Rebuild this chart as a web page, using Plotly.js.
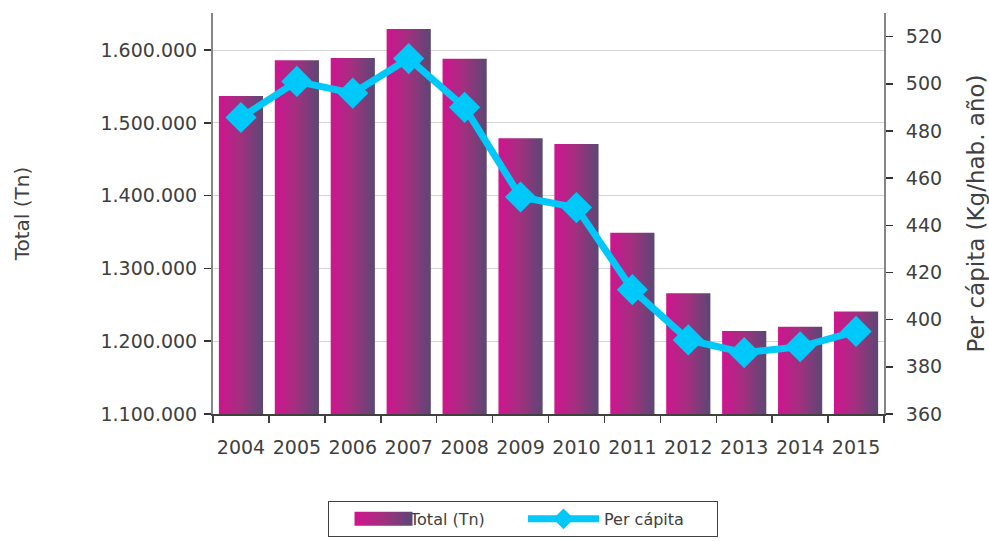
<!DOCTYPE html>
<html>
<head>
<meta charset="utf-8">
<script src="https://cdn.plot.ly/plotly-3.0.1.min.js"></script>
<style>
html,body{margin:0;padding:0;background:#fff;}
#chart{width:989px;height:541px;}
</style>
</head>
<body>
<div id="chart"></div>
<script>
var years = ['2004','2005','2006','2007','2008','2009','2010','2011','2012','2013','2014','2015'];
var totalTn = [1537000,1586000,1589000,1629000,1588000,1479000,1471000,1349000,1266000,1214000,1220000,1241000];
var perCapita = [485.7,501,496,510.7,490,452,447.5,412.7,391.4,386,388.5,395];

var FONT = '"DejaVu Sans", "Noto Sans", sans-serif';
var TXT = '#404040';

var traces = [
  {
    type:'bar', name:'Total (Tn)', x:years, y:totalTn, yaxis:'y',
    marker:{color:'#a02f84', line:{width:0}},
    hoverinfo:'skip'
  },
  {
    type:'scatter', mode:'lines+markers', name:'Per cápita', x:years, y:perCapita, yaxis:'y2',
    line:{color:'#00c8f8', width:7},
    marker:{symbol:'diamond', size:24, color:'#00c8f8'},
    hoverinfo:'skip'
  }
];

var layout = {
  width:989, height:541,
  margin:{l:213, r:105, t:13, b:127},
  paper_bgcolor:'#ffffff', plot_bgcolor:'#ffffff',
  separators:',.',
  font:{family:FONT, size:19, color:TXT},
  bargap:0.21,
  showlegend:true,
  xaxis:{
    type:'category', range:[-0.5,11.5], tickangle:0,
    showline:true, linecolor:'#404040', linewidth:1.5,
    ticks:'outside', tickson:'boundaries', ticklen:7, tickcolor:'#404040', tickwidth:1.5,
    showgrid:false, zeroline:false, ticklabelstandoff:16,
    tickfont:{family:FONT, size:19, color:TXT}
  },
  yaxis:{
    range:[1100000,1651000], dtick:100000, tick0:1100000, tickformat:',d',
    showline:true, linecolor:'#868686', linewidth:2,
    ticks:'outside', ticklen:7, tickcolor:'#333', tickwidth:1.5,
    showgrid:true, gridcolor:'#d4d4d4', gridwidth:1, zeroline:false,
    ticklabelstandoff:3,
    tickfont:{family:FONT, size:19, color:TXT},
    title:{text:'Total (Tn)', font:{family:FONT, size:20, color:TXT}, standoff:65}
  },
  yaxis2:{
    overlaying:'y', side:'right', anchor:'x',
    range:[360,530], dtick:20, tick0:360,
    showline:true, linecolor:'#868686', linewidth:2,
    ticks:'outside', ticklen:7, tickcolor:'#333', tickwidth:1.5,
    showgrid:false, zeroline:false, ticklabelstandoff:9,
    tickfont:{family:FONT, size:19, color:TXT},
    title:{text:'Per cápita (Kg/hab. año)', font:{family:FONT, size:23, color:TXT}, standoff:40}
  },
  legend:{
    orientation:'h', xref:'paper', x:0.1714, xanchor:'left',
    yref:'container', y:0.074, yanchor:'top',
    bordercolor:'#404040', borderwidth:1, bgcolor:'#ffffff',
    font:{family:FONT, size:16, color:TXT},
    entrywidth:108, itemwidth:71, tracegroupgap:0
  }
};

Plotly.newPlot('chart', traces, layout, {staticPlot:true, displayModeBar:false}).then(function(gd){
  var svg = gd.querySelector('svg.main-svg');
  var ns = 'http://www.w3.org/2000/svg';
  var defs = svg.querySelector('defs') || svg.insertBefore(document.createElementNS(ns,'defs'), svg.firstChild);
  var grad = document.createElementNS(ns,'linearGradient');
  grad.setAttribute('id','barGrad');
  grad.setAttribute('x1','0'); grad.setAttribute('y1','0');
  grad.setAttribute('x2','1'); grad.setAttribute('y2','0');
  [['0','#d0148f'],['0.5','#a1307f'],['1','#5a4874']].forEach(function(s){
    var st = document.createElementNS(ns,'stop');
    st.setAttribute('offset', s[0]); st.setAttribute('stop-color', s[1]);
    grad.appendChild(st);
  });
  defs.appendChild(grad);
  gd.querySelectorAll('.barlayer .point path').forEach(function(p){ p.style.fill = 'url(#barGrad)'; });
  var barEntry = gd.querySelectorAll('.legend .traces')[0];
  if (barEntry) {
    barEntry.querySelectorAll('.legendpoints path').forEach(function(p){
      p.setAttribute('d','M43,7H-15V-7H43Z');
      p.style.fill = 'url(#barGrad)';
      p.style.stroke = 'none';
    });
  }
});
</script>
</body>
</html>
